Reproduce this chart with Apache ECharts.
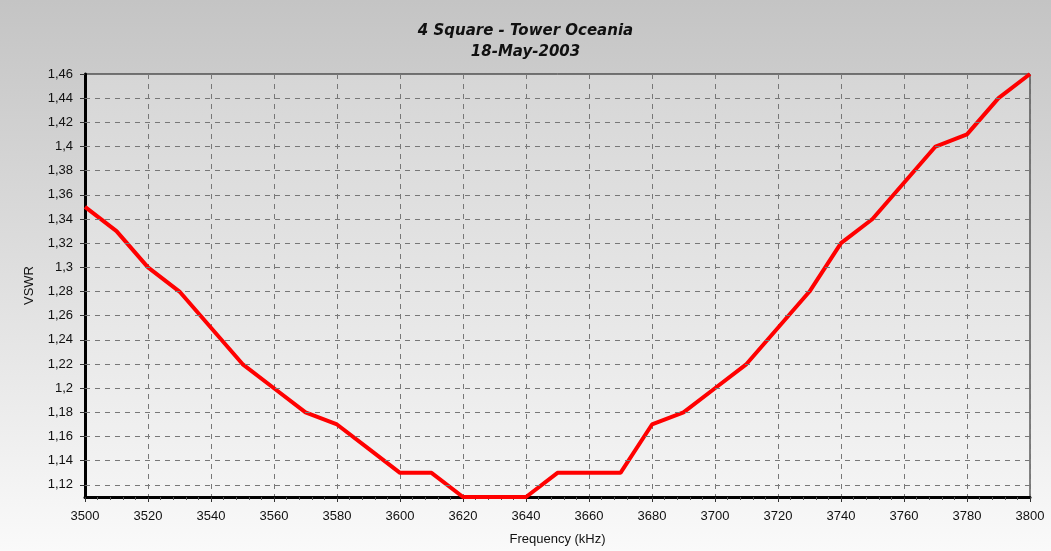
<!DOCTYPE html>
<html>
<head>
<meta charset="utf-8">
<script src="https://cdn.jsdelivr.net/npm/echarts@6/dist/echarts.min.js"></script>
<style>
  html, body { margin: 0; padding: 0; }
  #chart { width: 1051px; height: 551px; }
</style>
</head>
<body>
<div id="chart"></div>
<script>
// frequency in kHz, one point every 10 kHz
var freqs = [3500, 3510, 3520, 3530, 3540, 3550, 3560, 3570, 3580, 3590,
             3600, 3610, 3620, 3630, 3640, 3650, 3660, 3670, 3680, 3690,
             3700, 3710, 3720, 3730, 3740, 3750, 3760, 3770, 3780, 3790, 3800];
var vswr = [1.35, 1.33, 1.30, 1.28, 1.25, 1.22, 1.20, 1.18, 1.17, 1.15,
            1.13, 1.13, 1.11, 1.11, 1.11, 1.13, 1.13, 1.13, 1.17, 1.18,
            1.20, 1.22, 1.25, 1.28, 1.32, 1.34, 1.37, 1.40, 1.41, 1.44, 1.46];
// y tick labels sit on even hundredths, axis itself starts at 1.11
var yTicks = [1.12, 1.14, 1.16, 1.18, 1.20, 1.22, 1.24, 1.26, 1.28, 1.30,
              1.32, 1.34, 1.36, 1.38, 1.40, 1.42, 1.44, 1.46];
var titleLines = ['4 Square - Tower Oceania', '18-May-2003'];

var chart = echarts.init(document.getElementById('chart'));

var points = freqs.map(function (f, i) { return [f, vswr[i]]; });

var labelFont = { color: '#111', fontFamily: 'Liberation Sans, Arial', fontSize: 13 };
var gridDash = { color: '#777', type: [5, 5], width: 1 };

chart.setOption({
    animation: false,
    backgroundColor: new echarts.graphic.LinearGradient(0, 0, 0, 1, [
        { offset: 0, color: '#c4c4c4' },
        { offset: 1, color: '#fafafa' }
    ]),
    title: {
        text: titleLines.join('\n'),
        left: 'center',
        top: 16,
        textStyle: {
            color: '#111',
            fontFamily: 'DejaVu Sans',
            fontStyle: 'italic',
            fontWeight: 'bold',
            fontSize: 15,
            lineHeight: 21
        }
    },
    grid: {
        left: 85,
        right: 21,
        top: 74,
        bottom: 50,
        show: true,
        borderColor: '#111',
        borderWidth: 1,
        backgroundColor: new echarts.graphic.LinearGradient(0, 0, 0, 1, [
            { offset: 0, color: '#d6d6d6' },
            { offset: 1, color: '#f4f4f4' }
        ])
    },
    xAxis: {
        type: 'value',
        min: 3500,
        max: 3800,
        interval: 20,
        name: 'Frequency (kHz)',
        nameLocation: 'middle',
        nameGap: 36,
        nameTextStyle: labelFont,
        axisLine: { onZero: false, lineStyle: { color: '#000', width: 3 } },
        axisTick: { show: true, length: 5, lineStyle: { color: '#333' } },
        minorTick: { show: true, splitNumber: 5, length: 3, lineStyle: { color: '#555' } },
        axisLabel: Object.assign({
            margin: 13,
            formatter: function (v) { return String(v); }
        }, labelFont),
        splitLine: { show: true, lineStyle: gridDash }
    },
    yAxis: {
        type: 'value',
        min: 1.11,
        max: 1.46,
        name: 'VSWR',
        nameLocation: 'middle',
        nameGap: 49,
        nameTextStyle: labelFont,
        axisLine: { onZero: false, lineStyle: { color: '#000', width: 3 } },
        axisTick: { show: true, length: 5, lineStyle: { color: '#333' }, customValues: yTicks },
        axisLabel: Object.assign({
            margin: 12,
            customValues: yTicks,
            formatter: function (v) {
                return String(Math.round(v * 100) / 100).replace('.', ',');
            }
        }, labelFont),
        splitLine: { show: false }
    },
    series: [
        {
            name: 'VSWR',
            type: 'line',
            data: points,
            symbol: 'none',
            clip: false,
            lineStyle: { color: '#ff0000', width: 4 },
            z: 3,
            markLine: {
                silent: true,
                symbol: 'none',
                label: { show: false },
                lineStyle: gridDash,
                data: yTicks.slice(0, -1).map(function (v) { return { yAxis: v }; })
            }
        }
    ]
});
</script>
</body>
</html>
